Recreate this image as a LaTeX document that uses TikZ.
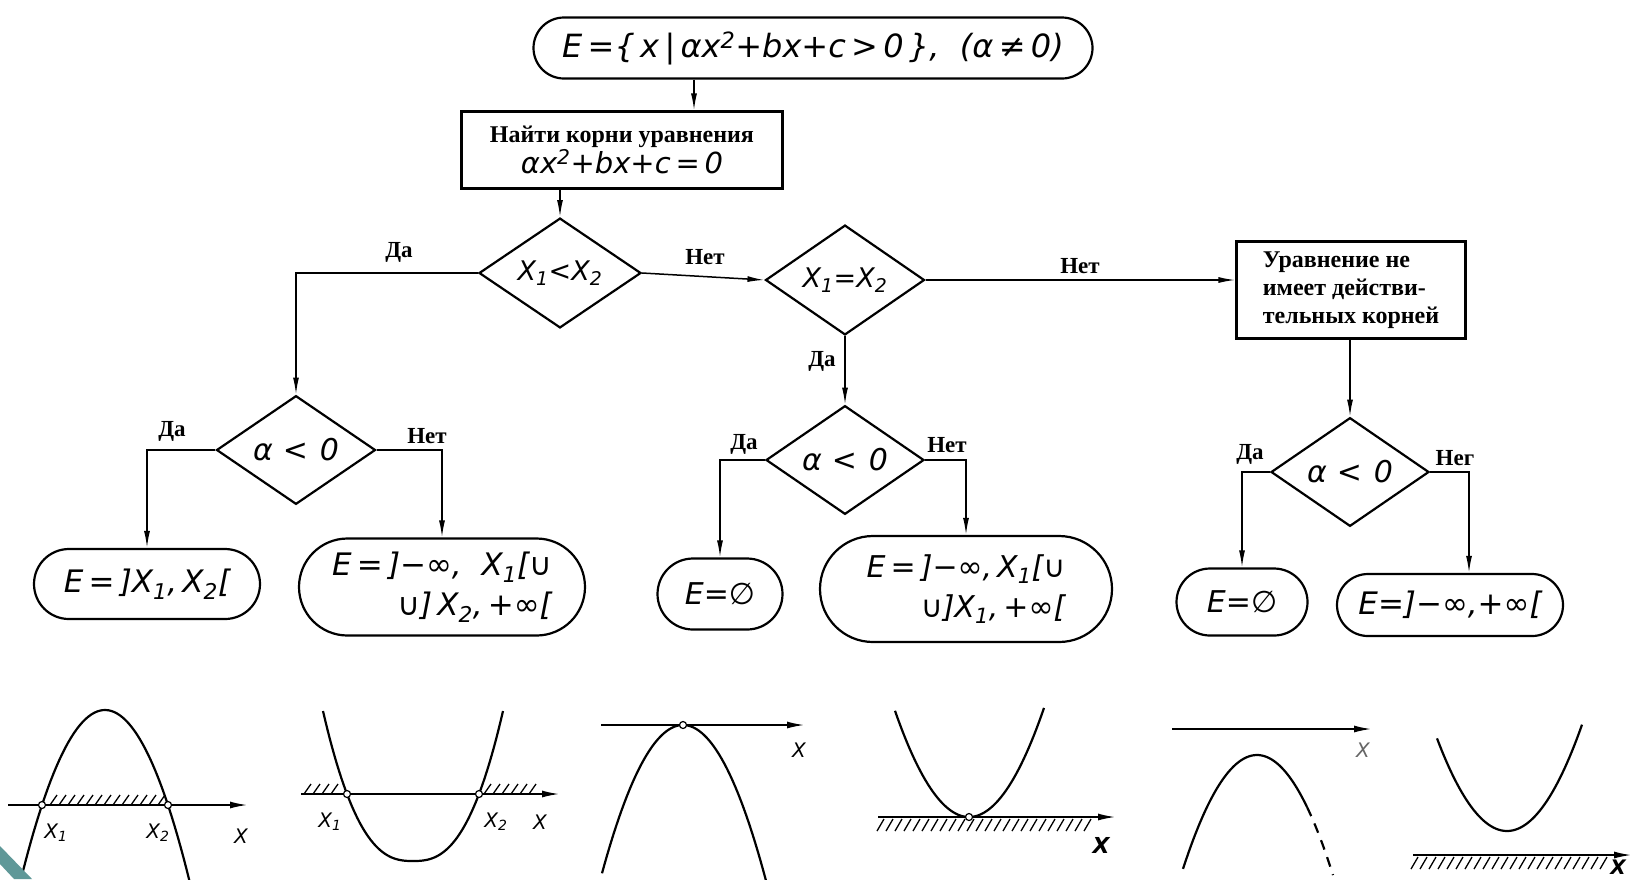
\documentclass[tikz,border=0pt]{standalone}
\usepackage{fontspec}
\setmainfont{Liberation Serif}
\newfontfamily\ff{DejaVu Sans}
\usetikzlibrary{shapes.geometric,shapes.misc,arrows.meta}
\definecolor{tealdeco}{HTML}{5F9898}
\newcommand\lo[1]{\textsubscript{#1}}
\newcommand\hi[1]{\textsuperscript{#1}}
\begin{document}
\begin{tikzpicture}[x=1pt,y=-1pt,
  pill/.style={draw, line width=2.2pt, rounded rectangle, inner sep=0pt},
  boxs/.style={draw, line width=2.2pt, rectangle, inner sep=0pt},
  dia/.style={draw, line width=2.2pt, diamond, inner sep=0pt},
  arr/.style={line width=1.5pt, -{Latex[length=17pt,width=6pt]}},
  axis/.style={line width=2pt, -{Latex[length=18pt,width=7pt]}},
  curve/.style={line width=2.2pt},
  hatch/.style={line width=1.3pt},
  dot/.style={circle, draw, fill=white, line width=1.2pt, inner sep=0pt, minimum size=7pt},
  lbl/.style={font=\fontsize{23}{24}\selectfont\bfseries},
  fm/.style={font=\ff\itshape\fontsize{27}{34}\selectfont},
  fa/.style={font=\ff\itshape\fontsize{30}{34}\selectfont},
  fe/.style={font=\ff\itshape\fontsize{31}{40}\selectfont},
  gl/.style={font=\ff\itshape\fontsize{20}{22}\selectfont},
  ru/.style={font=\fontsize{24}{28}\selectfont\bfseries}
]
\useasboundingbox (0,0) rectangle (1632,879);
\fill[white] (0,0) rectangle (1632,879);

% ---- nodes
\node[pill, font=\ff\itshape\fontsize{32}{36}\selectfont, minimum width=559pt, minimum height=61pt] (T) at (813,48)
  {E\,=\{\,x\,|\,αx\hi{2}+bx+c\,>\,0\,\},\ \ (α\,≠\,0)};
\node[boxs, minimum width=321pt, minimum height=77pt, align=center] (B) at (622,150)
  {{\fontsize{24}{26}\selectfont\bfseries Найти корни уравнения}\\[1pt]
   {\ff\itshape\fontsize{29}{32}\selectfont αx\hi{2}+bx+c\,=\,0}};
\node[dia, fm, minimum width=162pt, minimum height=84pt] (D1) at (560,273) {X\lo{1}<X\lo{2}};
\node[dia, fm, minimum width=159pt, minimum height=86pt] (D3) at (845,280) {X\lo{1}=X\lo{2}};
\node[boxs, ru, minimum width=229pt, minimum height=97pt, align=left] (B4) at (1351,290)
  {Уравнение не\\имеет действи-\\тельных корней};
\node[dia, fa, minimum width=159pt, minimum height=84pt] (D2) at (296,450) {α\hspace{10pt}<\hspace{12pt}0};
\node[dia, fa, minimum width=158pt, minimum height=87pt] (D5) at (845,460) {α\hspace{10pt}<\hspace{12pt}0};
\node[dia, fa, minimum width=158pt, minimum height=87pt] (D7) at (1350,472) {α\hspace{10pt}<\hspace{12pt}0};

\node[pill, fe, minimum width=226pt, minimum height=70pt] (E1) at (147,584) {E\,=\,]X\lo{1},\,X\lo{2}[};
\node[pill, fe, minimum width=286pt, minimum height=97pt, align=right] (E2) at (442,587)
  {E\,=\,]−∞,\ \ X\lo{1}[∪\\ ∪]\,X\lo{2},\,+∞[};
\node[pill, font=\ff\itshape\fontsize{30}{34}\selectfont, minimum width=125pt, minimum height=71pt] (E3) at (720,594) {E=∅};
\node[pill, font=\ff\itshape\fontsize{30}{40}\selectfont, minimum width=292pt, minimum height=106pt, align=right] (E4) at (966,589)
  {E\,=\,]−∞,\,X\lo{1}[∪\\ ∪]X\lo{1},\,+∞[};
\node[pill, font=\ff\itshape\fontsize{30}{34}\selectfont, minimum width=131pt, minimum height=67pt] (E5) at (1242,602) {E=∅};
\node[pill, fe, minimum width=226pt, minimum height=62pt] (E6) at (1450,605) {E=]−∞,+∞[};

% ---- connectors
\coordinate (tx) at (694,0);
\coordinate (c6) at (1469,0);
\draw[arr] (T.south -| tx) -- (B.north -| tx);
\draw[arr] (B.south -| D1.north) -- (D1.north);
\draw[arr] (D1.west) -| (D2.north);
\draw[arr] (D1.east) -- (D3.west);
\draw[arr] (D3.east) -- (D3.east -| B4.west);
\draw[arr] (D3.south) -- (D5.north);
\draw[arr] (B4.south -| D7.north) -- (D7.north);
\draw[arr] (D2.west) -| (E1.north);
\draw[arr] (D2.east) -| (E2.north);
\draw[arr] (D5.west) -| (E3.north);
\draw[arr] (D5.east) -| (E4.north);
\draw[arr] (D7.west) -| (E5.north);
\draw[arr] (D7.east) -| (E6.north -| c6);

% ---- connector labels
\node[lbl] (l1) at (399,252) {Да};
\node[lbl] (l2) at (705,257) {Нет};
\node[lbl] (l3) at (1080,266) {Нет};
\node[lbl] (l4) at (822,361) {Да};
\node[lbl] (l5) at (172,431) {Да};
\node[lbl] (l6) at (427,436) {Нет};
\node[lbl] (l7) at (744,444) {Да};
\node[lbl] (l8) at (947,445) {Нет};
\node[lbl] (l9) at (1250,454) {Да};
\node[lbl] (l10) at (1455,458) {Нег};

% ---- graph 1
\foreach \x in {50,59,...,165} \draw[hatch] (\x,805) -- ++(7,-10);
\draw[axis] (8,805) -- (248,805);
\draw[curve] plot[domain=-83:87, samples=60] ({105+\x},{710+0.02395*\x*\x});
\node[dot] (p1) at (42,805) {};
\node[dot] (p2) at (168,805) {};
\node[gl] (g1a) at (56,833) {X\lo{1}};
\node[gl] (g1b) at (158,833) {X\lo{2}};
\node[gl] (g1c) at (241,836) {X};

% ---- graph 2
\foreach \x in {304,313,...,336} \draw[hatch] (\x,794) -- ++(7,-10);
\foreach \x in {484,493,...,536} \draw[hatch] (\x,794) -- ++(7,-10);
\draw[axis] (301,794) -- (560,794);
\draw[curve] plot[domain=-90:90, samples=80] ({413+\x},{861-150*pow(abs(\x)/90,2.6)});
\node[dot] (p3) at (347,794) {};
\node[dot] (p4) at (479,794) {};
\node[gl] (g2a) at (330,822) {X\lo{1}};
\node[gl] (g2b) at (496,822) {X\lo{2}};
\node[gl] (g2c) at (540,822) {X};

% ---- graph 3
\draw[axis] (601,725) -- (805,725);
\draw[curve] plot[domain=-81:83, samples=60] ({683+\x},{725+0.0226*\x*\x});
\node[dot] (p5) at (683,725) {};
\node[gl] (g3c) at (799,750) {X};

% ---- graph 4
\foreach \x in {877,886,...,1085} \draw[hatch] (\x,831) -- ++(7,-12);
\draw[axis] (878,817) -- (1116,817);
\draw[curve] plot[domain=-74:75, samples=60] ({969+\x},{817-0.0194*\x*\x});
\node[dot] (p6) at (969,817) {};
\node[gl, font=\ff\bfseries\itshape\fontsize{22}{24}\selectfont] (g4c) at (1101,845) {X};

% ---- graph 5
\draw[axis] (1172,729) -- (1372,729);
\draw[curve] plot[domain=-74:50, samples=50] ({1257+\x},{755+0.0208*\x*\x});
\draw[curve, dash pattern=on 10pt off 8pt] plot[domain=50:76, samples=20] ({1257+\x},{755+0.0208*\x*\x});
\node[gl, text=black!60] (g5c) at (1363,750) {X};

% ---- graph 6
\foreach \x in {1411,1420,...,1600} \draw[hatch] (\x,869) -- ++(7,-12);
\draw[axis] (1413,855) -- (1632,855);
\draw[curve] plot[domain=-70:75, samples=60] ({1507+\x},{831-0.0189*\x*\x});
\node[gl, anchor=south east, inner sep=2pt, font=\ff\bfseries\itshape\fontsize{20}{22}\selectfont] (g6c) at (1628,877) {X};

% ---- decoration
\fill[tealdeco] (0,846) -- (32,879) -- (14,879) -- (0,864) -- cycle;
\end{tikzpicture}
\end{document}
